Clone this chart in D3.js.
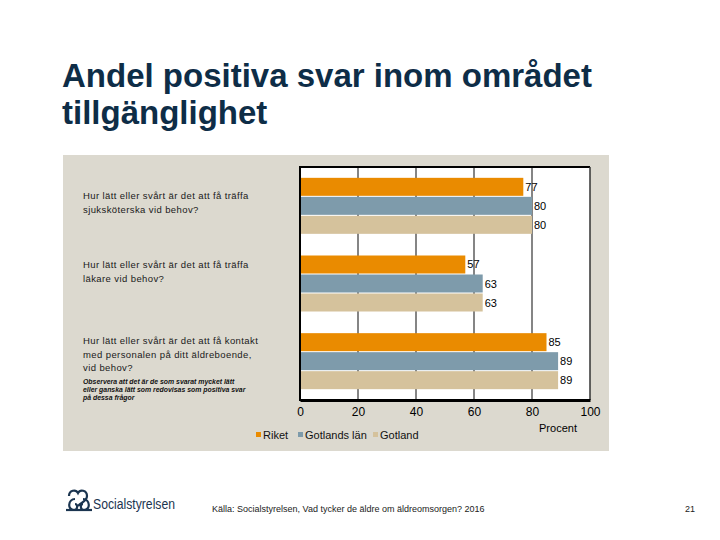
<!DOCTYPE html>
<html><head><meta charset="utf-8">
<script src="https://cdn.jsdelivr.net/npm/d3@7"></script>
<style>
body{margin:0;background:#fff;}
svg{display:block;font-family:"Liberation Sans",Arial,sans-serif;}
</style></head>
<body>
<svg id="c" width="720" height="540"></svg>
<script>
const titleLines = ["Andel positiva svar inom området", "tillgänglighet"];
const categories = ["q1", "q2", "q3"];
const categoryLabels = [
  ["Hur lätt eller svårt är det att få träffa", "sjuksköterska vid behov?"],
  ["Hur lätt eller svårt är det att få träffa", "läkare vid behov?"],
  ["Hur lätt eller svårt är det att få kontakt", "med personalen på ditt äldreboende,", "vid behov?"]
];
const noteLines = ["Observera att det är de som svarat mycket lätt", "eller ganska lätt som redovisas som positiva svar", "på dessa frågor"];
const series = ["Riket", "Gotlands län", "Gotland"];
const colors = ["#EA8B00", "#7E9BAB", "#D5C29C"];
const valuesRiket = [77, 57, 85];
const valuesGotlandsLan = [80, 63, 89];
const valuesGotland = [80, 63, 89];
const xTicks = [0, 20, 40, 60, 80, 100];
const axisTitle = "Procent";
const source = "Källa: Socialstyrelsen, Vad tycker de äldre om äldreomsorgen? 2016";
const pageNo = "21";

const seriesValues = [valuesRiket, valuesGotlandsLan, valuesGotland];
const svg = d3.select("#c");

// title
svg.append("g").selectAll("text").data(titleLines).join("text")
  .attr("x", 62).attr("y", (d, i) => 87 + i * 37)
  .attr("font-size", 33).attr("font-weight", "bold").attr("fill", "#0E2D47")
  .text(d => d);

// panel
svg.append("rect").attr("x", 63).attr("y", 155).attr("width", 546).attr("height", 296).attr("fill", "#DCD9CF");

const L = 300, R = 590, T = 167, B = 400;
const x = d3.scaleLinear().domain([0, 100]).range([L, R]);
const y0 = d3.scaleBand().domain(categories).range([T, B]);
const y1 = d3.scaleBand().domain(series).range([0, y0.bandwidth()]).paddingInner(0.053).paddingOuter(0.57);

svg.append("rect").attr("x", L).attr("y", T).attr("width", R - L).attr("height", B - T).attr("fill", "#fff");

// gridlines
svg.append("g").selectAll("line").data(xTicks.slice(1, -1)).join("line")
  .attr("x1", d => x(d)).attr("x2", d => x(d)).attr("y1", T).attr("y2", B)
  .attr("stroke", "#858585").attr("stroke-width", 2);

// bars
const data = [];
categories.forEach((c, ci) => series.forEach((s, si) => data.push({c, s, si, v: seriesValues[si][ci]})));
const bars = svg.append("g");
bars.selectAll("rect").data(data).join("rect")
  .attr("x", x(0)).attr("y", d => y0(d.c) + y1(d.s))
  .attr("width", d => x(d.v) - x(0)).attr("height", y1.bandwidth())
  .attr("fill", d => colors[d.si]);
bars.selectAll("text").data(data).join("text")
  .attr("x", d => x(d.v) + 2).attr("y", d => y0(d.c) + y1(d.s) + y1.bandwidth() / 2 + 4)
  .attr("font-size", 11).attr("fill", "#000").text(d => d.v);

// frame
svg.append("line").attr("x1", L).attr("x2", R).attr("y1", T).attr("y2", T).attr("stroke", "#000").attr("stroke-width", 2);
svg.append("line").attr("x1", R).attr("x2", R).attr("y1", T).attr("y2", B).attr("stroke", "#333").attr("stroke-width", 1.5);
svg.append("line").attr("x1", L).attr("x2", L).attr("y1", T - 1).attr("y2", B + 1).attr("stroke", "#000").attr("stroke-width", 2);

// x axis
const ax = svg.append("g").attr("transform", `translate(0,${B})`)
  .call(d3.axisBottom(x).tickValues(xTicks).tickSize(0).tickPadding(7).tickFormat(d3.format("d")));
ax.select(".domain").attr("stroke", "#000").attr("stroke-width", 3);
ax.selectAll("text").attr("font-size", 12).attr("fill", "#000").attr("font-family", "Liberation Sans, Arial, sans-serif");

svg.append("text").attr("x", 558).attr("y", 432).attr("text-anchor", "middle").attr("font-size", 11).text(axisTitle);

// category labels
const cl = svg.append("g");
categories.forEach((c, ci) => {
  const lines = categoryLabels[ci];
  const startY = [203, 272, 348][ci] - 4;
  cl.append("text").attr("x", 83).attr("font-size", 9.5).attr("letter-spacing", 0.4).attr("fill", "#1a1a1a")
    .selectAll("tspan").data(lines).join("tspan")
    .attr("x", 83).attr("y", (d, i) => startY + i * 13.5).text(d => d);
});
svg.append("text").attr("font-size", 6.9).attr("font-style", "italic").attr("font-weight", "bold").attr("fill", "#111")
  .selectAll("tspan").data(noteLines).join("tspan")
  .attr("x", 83).attr("y", (d, i) => 384 + i * 8).text(d => d);

// legend
const lg = svg.append("g");
const legX = [256, 298, 373];
series.forEach((s, i) => {
  lg.append("rect").attr("x", legX[i]).attr("y", 432).attr("width", 5).attr("height", 5).attr("fill", colors[i]);
  lg.append("text").attr("x", legX[i] + 7).attr("y", 439).attr("font-size", 11).attr("fill", "#111").text(s);
});

// footer logo
const logo = svg.append("g").attr("transform", "translate(66,490)").attr("fill", "none").attr("stroke", "#1B3550").attr("stroke-width", 2.2);
logo.append("path").attr("d", "M3,6 C3,0 10,-1 12,3 C14,-1 21,0 21,6 C21,11 16,12 12,16");
logo.append("path").attr("d", "M9,9 C2,9 1,20 8,20 C12,20 12,14 9,14");
logo.append("path").attr("d", "M17,9 C24,9 25,20 18,20 C14,20 14,14 17,14");
logo.append("line").attr("x1", 0).attr("x2", 26).attr("y1", 20).attr("y2", 20);
svg.append("text").attr("x", 93).attr("y", 509).attr("font-size", 14).attr("fill", "#1B3550")
  .attr("textLength", 82).attr("lengthAdjust", "spacingAndGlyphs").text("Socialstyrelsen");

svg.append("text").attr("x", 212).attr("y", 512).attr("font-size", 9).attr("fill", "#222").text(source);
svg.append("text").attr("x", 690).attr("y", 512).attr("font-size", 9).attr("fill", "#222").attr("text-anchor", "middle").text(pageNo);
</script>
</body></html>
